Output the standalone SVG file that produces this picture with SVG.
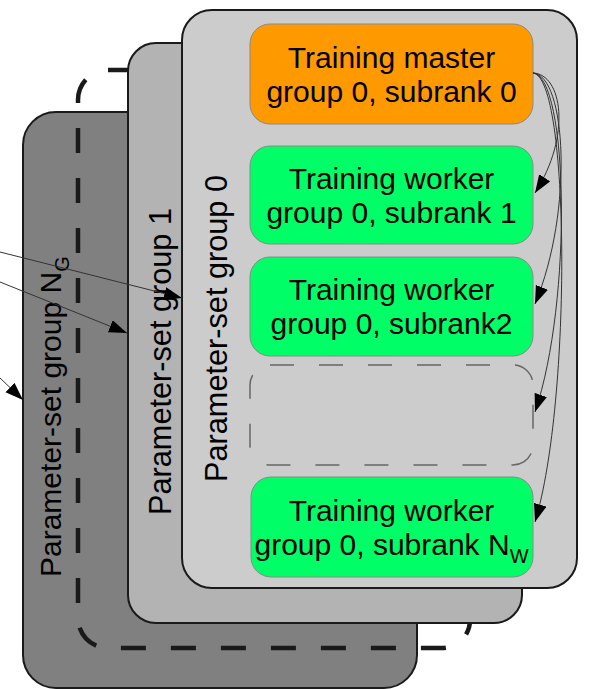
<svg xmlns="http://www.w3.org/2000/svg" width="595" height="689" viewBox="0 0 595 689">
<defs>
<style>
.panel{stroke:#1a1a1a;stroke-width:2}
.t{font-family:"Liberation Sans",Arial,sans-serif;font-size:30px;fill:#000}
.lbl{font-size:30.7px}
.c{text-anchor:middle}
.node{stroke:#8a8a8a;stroke-width:1}
.conn{fill:none;stroke:#333;stroke-width:1}
</style>
<marker id="ah" markerUnits="userSpaceOnUse" markerWidth="20" markerHeight="14" refX="18" refY="6.5" orient="auto">
<path d="M0,0 L18,6.5 L0,13 Z" fill="#000"/>
</marker>
</defs>
<g id="panel-ng">
<rect class="panel" x="23" y="112" width="394" height="576" rx="33" fill="#808080"/>
<text class="t" transform="translate(61,577) rotate(-90)">Parameter-set group N<tspan font-size="20" dy="8">G</tspan></text>
</g>
<g id="panel-dashed">
<path d="M133,70 L108,70 A30,30 0 0 0 78,100 L78,618 A30,30 0 0 0 108,648 L442,648 A28,28 0 0 0 470,620 L470,100" fill="none" stroke="#1a1a1a" stroke-width="4.5" stroke-dasharray="25,25"/>
</g>
<g id="panel-1">
<rect class="panel" x="128" y="43" width="394" height="580" rx="28" fill="#b3b3b3"/>
<text class="t lbl" transform="translate(171,515) rotate(-90)">Parameter-set group 1</text>
</g>
<g id="panel-0">
<rect class="panel" x="182" y="10" width="395" height="578" rx="30" fill="#cccccc"/>
<text class="t lbl" transform="translate(227,482) rotate(-90)">Parameter-set group 0</text>
</g>
<g id="master">
<rect class="node" x="250" y="24" width="283" height="100" rx="20" fill="#ff9900"/>
<text class="t c" x="391.5" y="68">Training master</text>
<text class="t c" x="391.5" y="102">group 0, subrank 0</text>
</g>
<g id="worker1">
<rect class="node" x="250" y="146" width="283" height="98" rx="20" fill="#00ff66"/>
<text class="t c" x="391.5" y="189">Training worker</text>
<text class="t c" x="391.5" y="223">group 0, subrank 1</text>
</g>
<g id="worker2">
<rect class="node" x="250" y="257" width="283" height="99" rx="20" fill="#00ff66"/>
<text class="t c" x="391.5" y="300">Training worker</text>
<text class="t c" x="391.5" y="334">group 0, subrank2</text>
</g>
<g id="placeholder">
<rect x="250" y="365" width="283" height="100" rx="20" fill="none" stroke="#666" stroke-width="1.5" stroke-dasharray="24,25"/>
</g>
<g id="workerN">
<rect class="node" x="251" y="477" width="282" height="100" rx="20" fill="#00ff66"/>
<text class="t c" x="391.5" y="521">Training worker</text>
<text class="t c" x="391.5" y="555">group 0, subrank N<tspan font-size="20" dy="8">W</tspan></text>
</g>
<g id="connectors">
<path class="conn" d="M0,252 L182,298" marker-end="url(#ah)"/>
<path class="conn" d="M0,282 L127,333" marker-end="url(#ah)"/>
<path class="conn" d="M0,378 L23,400" marker-end="url(#ah)"/>
<path class="conn" d="M533,73 C562,74 572,135 535,193" marker-end="url(#ah)"/>
<path class="conn" d="M533,73 C566,75 574,210 535,304" marker-end="url(#ah)"/>
<path class="conn" d="M533,73 C568,76 573,300 535,412" marker-end="url(#ah)"/>
<path class="conn" d="M533,73 C570,77 572,400 535,522" marker-end="url(#ah)"/>
</g>
</svg>
